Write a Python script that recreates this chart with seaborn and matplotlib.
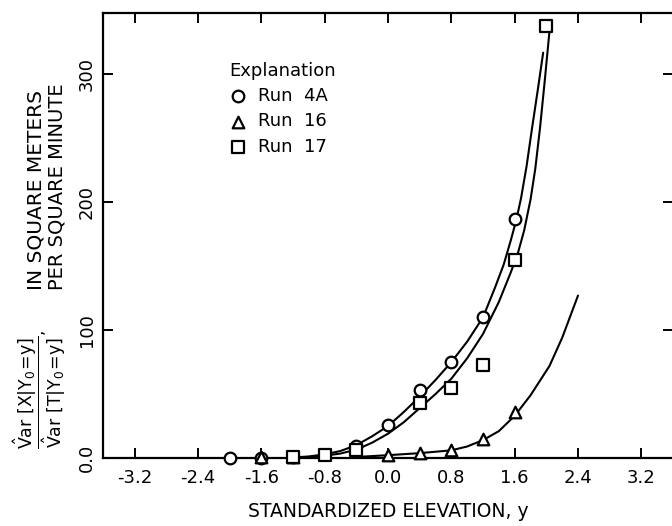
import matplotlib
matplotlib.use("Agg")
import matplotlib.pyplot as plt
import seaborn as sns

# Observed variance ratios by standardized elevation
run4a_x = [-2.0, -1.6, -1.2, -0.4, 0.0, 0.4, 0.8, 1.2, 1.6]
run4a_y = [0.0, 0.0, 0.5, 9.0, 26.0, 53.0, 75.0, 110.0, 187.0]
run16_x = [-1.6, -1.2, 0.0, 0.4, 0.8, 1.2, 1.6]
run16_y = [1.0, 1.0, 2.5, 4.0, 6.0, 15.0, 36.0]
run17_x = [-1.2, -0.8, -0.4, 0.4, 0.8, 1.2, 1.6, 2.0]
run17_y = [1.0, 2.5, 6.0, 43.0, 55.0, 73.0, 155.0, 338.0]

# Fitted curves for each run
fit4a_x = [-1.2, -1.0, -0.8, -0.6, -0.4, -0.2, 0.0, 0.2, 0.4, 0.6, 0.8, 1.0,
           1.2, 1.35, 1.46, 1.55, 1.62, 1.68, 1.75, 1.815, 1.89, 1.96]
fit4a_y = [0.4, 1.2, 2.8, 5.5, 10.0, 17.0, 25.0, 36.0, 48.0, 61.0, 75.0, 91.0,
           110.0, 133.0, 151.0, 170.0, 186.0, 203.0, 228.0, 256.0, 287.0, 317.0]
fit17_x = [-1.2, -1.0, -0.8, -0.6, -0.4, -0.2, 0.0, 0.2, 0.4, 0.6, 0.8, 1.0,
           1.2, 1.4, 1.55, 1.64, 1.72, 1.80, 1.86, 1.92, 1.98, 2.04]
fit17_y = [0.3, 0.8, 1.8, 3.5, 6.5, 12.0, 19.0, 28.0, 39.0, 50.0, 62.0, 78.0,
           97.0, 122.0, 145.0, 160.0, 178.0, 202.0, 226.0, 258.0, 295.0, 334.0]
fit16_x = [-0.4, 0.0, 0.4, 0.8, 1.0, 1.2, 1.4, 1.6, 1.8, 2.04, 2.2, 2.4]
fit16_y = [0.8, 2.2, 3.8, 6.0, 9.0, 14.0, 21.0, 33.0, 49.0, 72.0, 94.0, 127.0]

x_ticks = [-3.2, -2.4, -1.6, -0.8, 0.0, 0.8, 1.6, 2.4, 3.2]
x_tick_labels = ["-3.2", "-2.4", "-1.6", "-0.8", "0.0", "0.8", "1.6", "2.4", "3.2"]
y_ticks = [0, 100, 200, 300]
y_tick_labels = ["0.0", "100", "200", "300"]

sns.set_style("ticks")
plt.rcParams["font.family"] = ["DejaVu Sans"]
plt.rcParams["mathtext.fontset"] = "dejavusans"
plt.rcParams["axes.unicode_minus"] = False
for key in ["text.color", "axes.labelcolor", "xtick.color", "ytick.color",
            "axes.edgecolor"]:
    plt.rcParams[key] = "black"

W, H = 672, 526
fig = plt.figure(figsize=(W / 100, H / 100), dpi=100)
ax = fig.add_axes([103 / W, (H - 458) / H, 570 / W, 445 / H])

line_kw = dict(color="black", linewidth=1.5, estimator=None, legend=False)
sns.lineplot(x=fit4a_x, y=fit4a_y, ax=ax, **line_kw)
sns.lineplot(x=fit17_x, y=fit17_y, ax=ax, **line_kw)
sns.lineplot(x=fit16_x, y=fit16_y, ax=ax, **line_kw)

pt_kw = dict(s=70, facecolor="white", edgecolor="black", linewidth=1.6,
             zorder=5, clip_on=False)
sns.scatterplot(x=run4a_x, y=run4a_y, marker="o", label="Run  4A", ax=ax, **pt_kw)
sns.scatterplot(x=run16_x, y=run16_y, marker="^", label="Run  16", ax=ax, **pt_kw)
sns.scatterplot(x=run17_x, y=run17_y, marker="s", label="Run  17", ax=ax, **pt_kw)

ax.set_xlim(-3.6, 3.6)
ax.set_ylim(0, 348)
ax.set_xticks(x_ticks)
ax.set_xticklabels(x_tick_labels)
ax.set_yticks(y_ticks)
ax.set_yticklabels(y_tick_labels, rotation=90, va="center")

for side in ["left", "top", "bottom"]:
    ax.spines[side].set_visible(True)
    ax.spines[side].set_linewidth(1.6)
ax.spines["right"].set_visible(False)

ax.tick_params(axis="both", which="both", direction="in", length=7, width=1.4,
               top=True, right=True, labelsize=13)
ax.tick_params(axis="x", pad=8)
ax.tick_params(axis="y", pad=5)

ax.set_xlabel("STANDARDIZED ELEVATION, y", fontsize=13.5, labelpad=11)
ax.set_ylabel("")

leg = ax.legend(title="Explanation", loc="upper left",
                bbox_to_anchor=(0.221, 0.89), frameon=False, alignment="left",
                fontsize=13, title_fontsize=13, handlelength=1.0,
                handletextpad=0.6, labelspacing=0.4, borderpad=0,
                borderaxespad=0)

fig.text(36 / W, (H - 290) / H, "IN SQUARE METERS", rotation=90,
         ha="center", va="bottom", fontsize=14.5)
fig.text(57 / W, (H - 290) / H, "PER SQUARE MINUTE", rotation=90,
         ha="center", va="bottom", fontsize=14)
fig.text(40 / W, (H - 389) / H,
         r"$\dfrac{\hat{\mathrm{V}}\mathrm{ar}\ [\mathrm{X|Y_0\!=\!y}]}"
         r"{\hat{\mathrm{V}}\mathrm{ar}\ [\mathrm{T|Y_0\!=\!y}]}$,",
         rotation=90, ha="center", va="center", fontsize=12.5)

fig.savefig("out.png", dpi=100, facecolor="white")
